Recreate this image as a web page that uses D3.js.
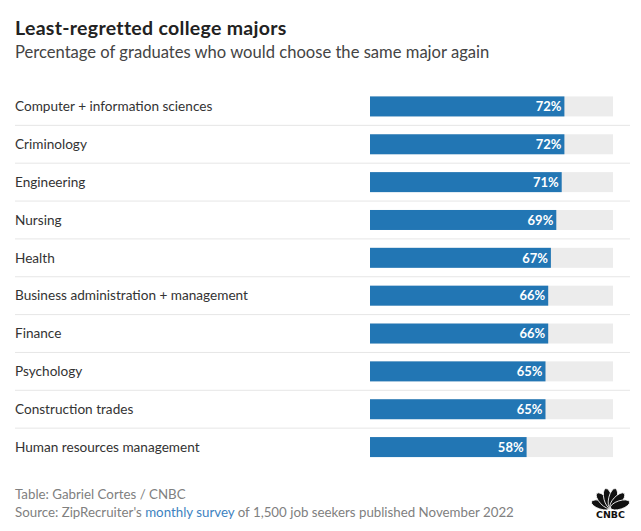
<!DOCTYPE html>
<html>
<head>
<meta charset="utf-8">
<script src="https://cdn.jsdelivr.net/npm/d3@7"></script>
<style>
  body { margin: 0; background: #fff; font-family: Lato, "Open Sans", sans-serif; }
  svg text { font-family: Lato, "Open Sans", sans-serif; }
</style>
</head>
<body>
<div id="chart"></div>
<script>
// Data
const majors = ['Computer + information sciences', 'Criminology', 'Engineering', 'Nursing', 'Health',
                'Business administration + management', 'Finance', 'Psychology', 'Construction trades',
                'Human resources management'];
const shares = [72, 72, 71, 69, 67, 66, 66, 65, 65, 58];
const scaleMax = 90;

const width = 641, height = 531;

const svg = d3.select('#chart')
  .append('svg')
  .attr('width', width)
  .attr('height', height);

// Title + subtitle
svg.append('text')
  .attr('x', 15).attr('y', 35)
  .style('font-size', '19.5px').style('font-weight', 700).style('fill', '#222')
  .style('letter-spacing', '0.3px')
  .text('Least-regretted college majors');

svg.append('text')
  .attr('x', 15).attr('y', 58)
  .style('font-size', '16.6px').style('fill', '#444')
  .text('Percentage of graduates who would choose the same major again');

// Scales
const yScale = d3.scaleBand()
  .domain(majors)
  .range([87.5, 466])
  .padding(0);

const xScale = d3.scaleLinear()
  .domain([0, scaleMax])
  .range([370, 613]);

const barH = 20;

const rows = svg.selectAll('.row')
  .data(majors)
  .enter()
  .append('g')
  .attr('class', 'row');

// separators
rows.filter((d, i) => i < majors.length - 1)
  .append('line')
  .attr('x1', 15).attr('x2', 630)
  .attr('y1', d => yScale(d) + yScale.bandwidth())
  .attr('y2', d => yScale(d) + yScale.bandwidth())
  .style('stroke', '#e6e6e6')
  .style('stroke-width', 1);

rows.append('text')
  .attr('x', 15)
  .attr('y', d => yScale(d) + yScale.bandwidth() / 2)
  .attr('dy', '0.35em')
  .style('font-size', '13.6px').style('fill', '#333')
  .text(d => d);

// background track
rows.append('rect')
  .attr('x', xScale(0))
  .attr('y', d => yScale(d) + (yScale.bandwidth() - barH) / 2)
  .attr('width', xScale(scaleMax) - xScale(0))
  .attr('height', barH)
  .style('fill', '#ececec');

// bars
rows.append('rect')
  .attr('x', xScale(0))
  .attr('y', d => yScale(d) + (yScale.bandwidth() - barH) / 2)
  .attr('width', (d, i) => xScale(shares[i]) - xScale(0))
  .attr('height', barH)
  .style('fill', '#2276b4');

rows.append('text')
  .attr('x', (d, i) => xScale(shares[i]) - 3)
  .attr('y', d => yScale(d) + yScale.bandwidth() / 2)
  .attr('dy', '0.36em')
  .attr('text-anchor', 'end')
  .style('font-size', '13px').style('font-weight', 700).style('fill', '#fff')
  .text((d, i) => shares[i] + '%');

// Footer
svg.append('text')
  .attr('x', 15).attr('y', 499)
  .style('font-size', '13.3px').style('fill', '#808080')
  .text('Table: Gabriel Cortes / CNBC');

const src = svg.append('text')
  .attr('x', 15).attr('y', 517)
  .style('font-size', '13.3px').style('fill', '#808080');
src.append('tspan').text("Source: ZipRecruiter's ");
src.append('tspan').style('fill', '#3d82bf').text('monthly survey');
src.append('tspan').text(' of 1,500 job seekers published November 2022');

// CNBC peacock logo (approx)
const logo = svg.append('g').attr('transform', 'translate(610.5, 508)');
const petalAngles = [-72, -43, -14, 14, 43, 72];
logo.selectAll('ellipse')
  .data(petalAngles)
  .enter()
  .append('ellipse')
  .attr('cx', 0).attr('cy', -10)
  .attr('rx', 4.2).attr('ry', 10)
  .attr('transform', d => `rotate(${d})`)
  .style('fill', '#111')
  .style('stroke', '#fff')
  .style('stroke-width', 0.8);
logo.append('text')
  .attr('x', -14.5).attr('y', 9.5)
  .attr('textLength', 29)
  .attr('lengthAdjust', 'spacingAndGlyphs')
  .style('font-size', '9px').style('font-weight', 900).style('fill', '#111')
  .style('font-family', '"DejaVu Sans", sans-serif')
  .text('CNBC');
</script>
</body>
</html>
